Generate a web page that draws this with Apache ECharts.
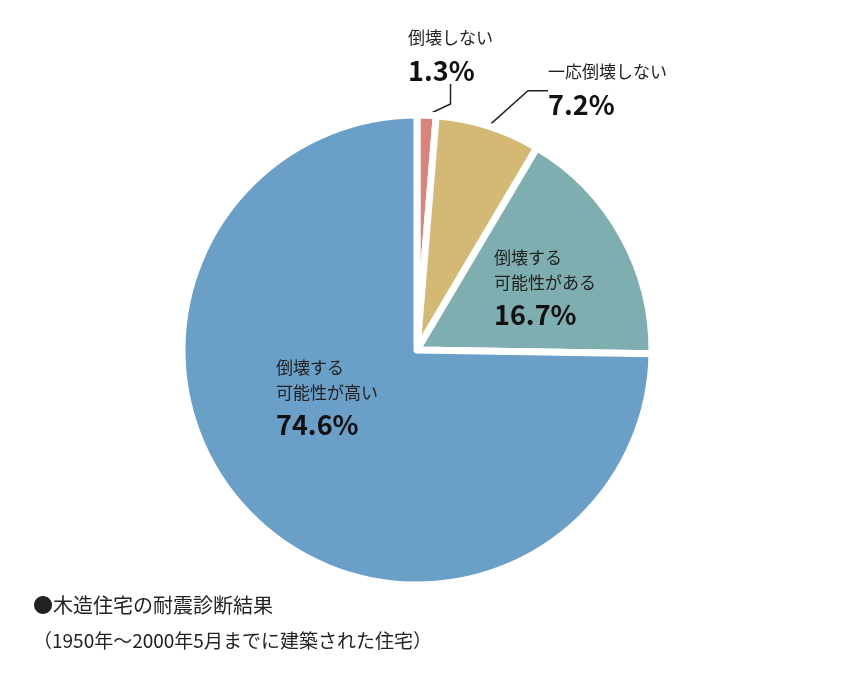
<!DOCTYPE html>
<html><head><meta charset="utf-8">
<script src="https://cdn.jsdelivr.net/npm/echarts@6/dist/echarts.min.js"></script>
<style>html,body{margin:0;background:#fff}#c{width:864px;height:680px}</style>
</head><body><div id="c"></div>
<script>
const names = ['倒壊しない', '一応倒壊しない', '倒壊する\n可能性がある', '倒壊する\n可能性が高い'];
const values = [1.3, 7.2, 16.7, 74.6];
const colors = ['#d9837b', '#d4b974', '#7eaeb0', '#6a9fc8'];
const labelPos = [[408, 58], [548, 92], [494, 290], [276, 400]];
const outside = [true, true, false, false];

const chart = echarts.init(document.getElementById('c'));
const font = '"Noto Sans CJK JP", sans-serif';

chart.setOption({
  animation: false,
  title: {
    text: '●木造住宅の耐震診断結果',
    subtext: '（1950年〜2000年5月までに建築された住宅）',
    left: 28, top: 590, itemGap: 16,
    textStyle: {fontFamily: font, fontSize: 20, fontWeight: 'normal', color: '#222'},
    subtextStyle: {fontFamily: font, fontSize: 19, color: '#222'}
  },
  series: [{
    type: 'pie',
    center: [417, 350],
    radius: [0, 235],
    startAngle: 90,
    clockwise: true,
    itemStyle: {borderColor: '#fff', borderWidth: 7},
    data: values.map((v, i) => ({
      name: names[i], value: v,
      itemStyle: {color: colors[i]},
      label: {position: outside[i] ? 'outside' : 'inside'},
      labelLine: {show: outside[i], length: 20, length2: 20, lineStyle: {color: '#222', width: 1.5}}
    })),
    label: {
      fontFamily: font,
      color: '#222',
      formatter: p => '{n|' + p.name.split('\n').join('}\n{n|') + '}\n{v|' + p.value.toFixed(1) + '%}',
      rich: {
        n: {fontFamily: font, fontSize: 17, lineHeight: 25, color: '#222', align: 'left'},
        v: {fontFamily: font, fontSize: 27, fontWeight: 'bold', lineHeight: 40, color: '#111', align: 'left'}
      }
    },
    labelLayout: p => ({
      x: labelPos[p.dataIndex][0],
      y: labelPos[p.dataIndex][1],
      align: 'left',
      verticalAlign: 'middle'
    })
  }]
});
</script></body></html>
